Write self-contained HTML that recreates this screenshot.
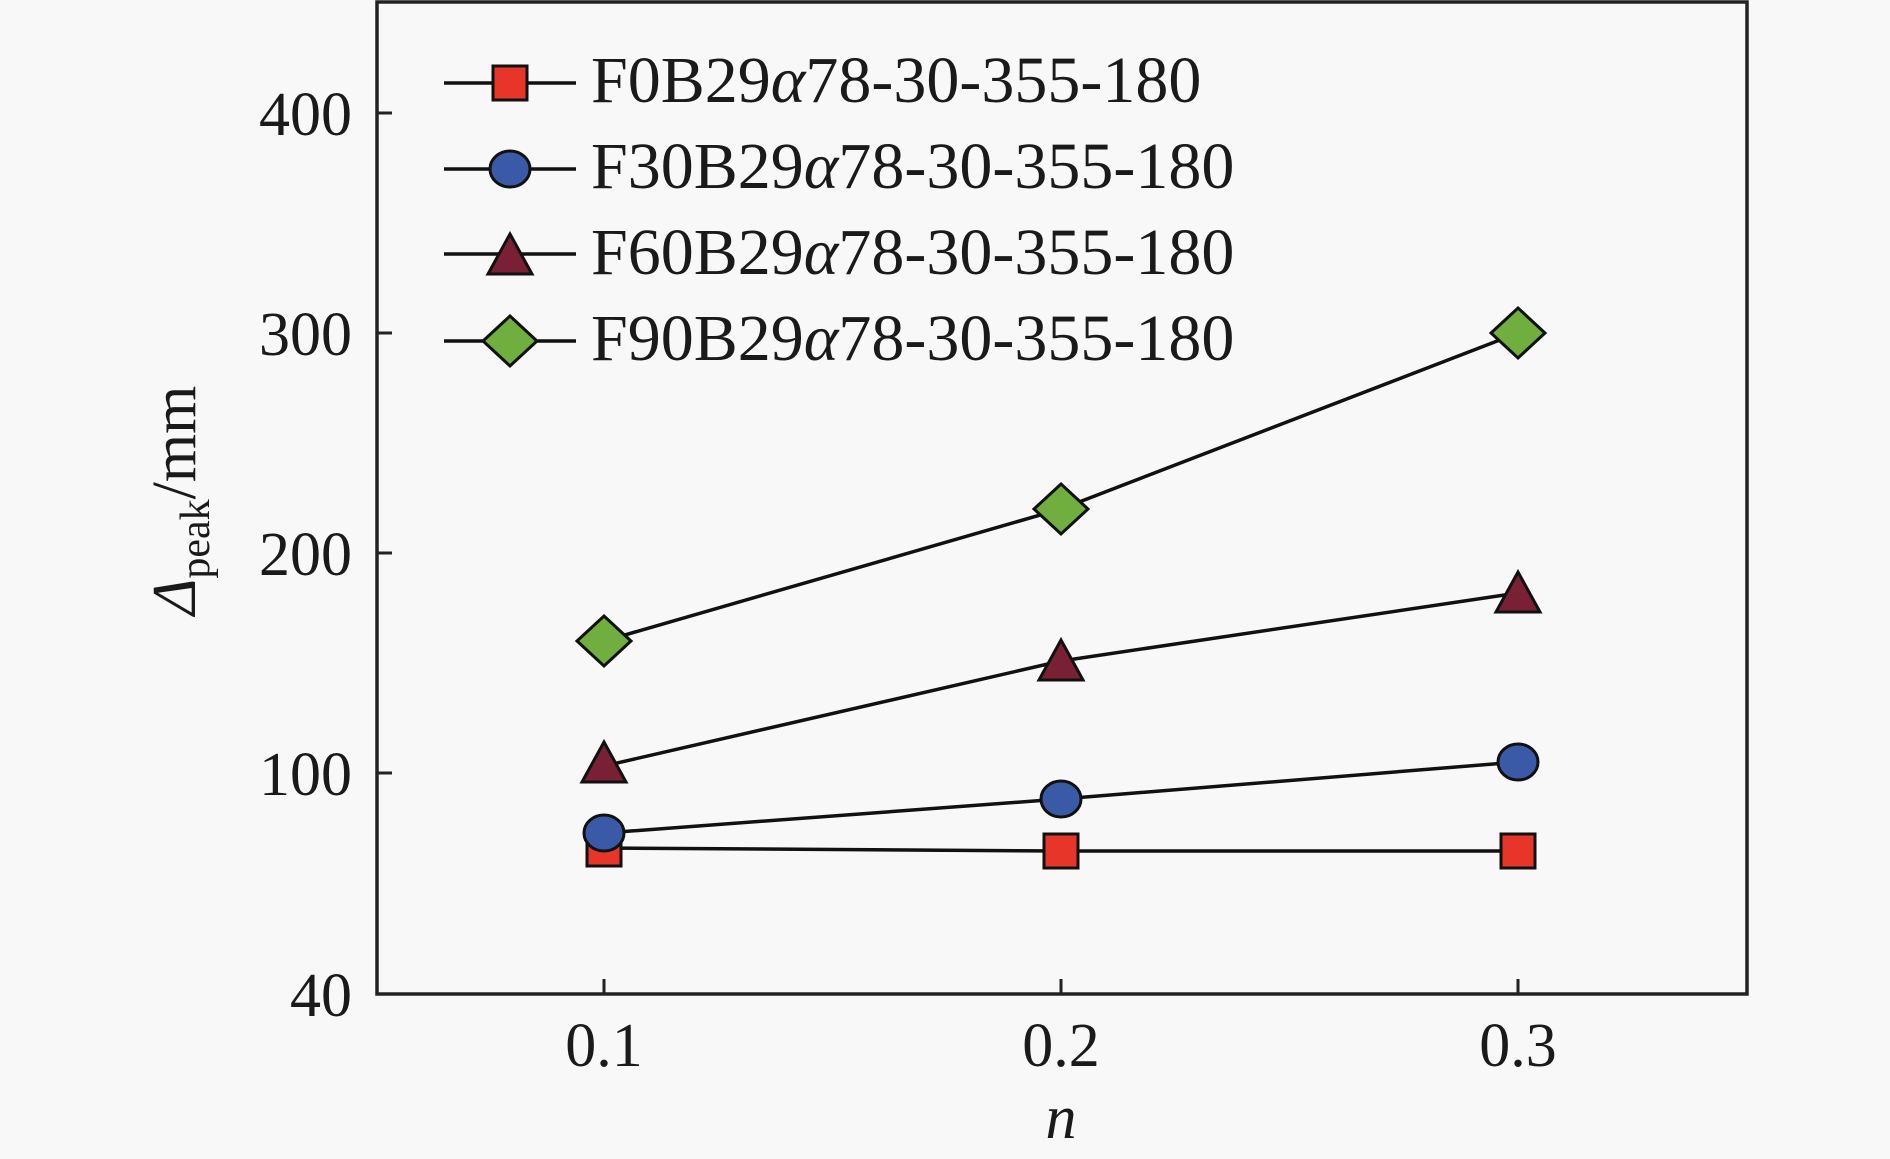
<!DOCTYPE html>
<html><head><meta charset="utf-8"><style>
html,body{margin:0;padding:0;background:#f8f8f8;}
svg{display:block;}
text{font-family:"Liberation Serif",serif;fill:#1a1a1a;}
</style></head><body>
<svg width="1890" height="1159" viewBox="0 0 1890 1159" xmlns="http://www.w3.org/2000/svg">
<rect width="1890" height="1159" fill="#f8f8f8"/>
<rect x="377" y="2" width="1370" height="992" fill="none" stroke="#222" stroke-width="3.5"/>
<g stroke="#222" stroke-width="3">
<line x1="377" y1="113" x2="392" y2="113"/>
<line x1="377" y1="333" x2="392" y2="333"/>
<line x1="377" y1="553" x2="392" y2="553"/>
<line x1="377" y1="773" x2="392" y2="773"/>
<line x1="604" y1="994" x2="604" y2="979"/>
<line x1="1061" y1="994" x2="1061" y2="979"/>
<line x1="1518" y1="994" x2="1518" y2="979"/>
</g>
<g font-size="62" text-anchor="end">
<text x="352" y="135">400</text>
<text x="352" y="355">300</text>
<text x="352" y="575">200</text>
<text x="352" y="795">100</text>
<text x="352" y="1016">40</text>
</g>
<g font-size="62" text-anchor="middle">
<text x="604" y="1066">0.1</text>
<text x="1061" y="1066">0.2</text>
<text x="1518" y="1066">0.3</text>
<text x="1061" y="1138" font-style="italic">n</text>
</g>
<text transform="translate(195,615) rotate(-90)" font-size="62"><tspan font-style="italic">Δ</tspan><tspan font-size="42" dy="14">peak</tspan><tspan dy="-14">/mm</tspan></text>
<g stroke="#111" stroke-width="3.5" fill="none">
<polyline points="604,848 1061,851 1518,851"/>
<polyline points="604,833 1061,799 1518,762"/>
<polyline points="604,766 1061,661 1518,593"/>
<polyline points="604,641 1061,509 1518,333"/>
</g>
<g stroke="#111" stroke-width="3">
<rect x="587" y="832" width="34" height="34" fill="#e8352a"/>
<rect x="1044" y="834" width="34" height="34" fill="#e8352a"/>
<rect x="1501" y="834" width="34" height="34" fill="#e8352a"/>
<ellipse cx="604" cy="833" rx="20" ry="18" fill="#3a5aa8"/>
<ellipse cx="1061" cy="799" rx="20" ry="18" fill="#3a5aa8"/>
<ellipse cx="1518" cy="762" rx="20" ry="18" fill="#3a5aa8"/>
<polygon points="604,742 582,782 626,782" fill="#7a2035"/>
<polygon points="1061,640 1039,680 1083,680" fill="#7a2035"/>
<polygon points="1518,572 1496,612 1540,612" fill="#7a2035"/>
<polygon points="604,616 631,641 604,666 577,641" fill="#6fae3f"/>
<polygon points="1061,484 1088,509 1061,534 1034,509" fill="#6fae3f"/>
<polygon points="1518,308 1545,333 1518,358 1491,333" fill="#6fae3f"/>
</g>
<g stroke="#111" stroke-width="3.5">
<line x1="444" y1="83" x2="576" y2="83"/>
<line x1="444" y1="169" x2="576" y2="169"/>
<line x1="444" y1="254" x2="576" y2="254"/>
<line x1="444" y1="341" x2="576" y2="341"/>
</g>
<g stroke="#111" stroke-width="3">
<rect x="493" y="66" width="34" height="34" fill="#e8352a"/>
<ellipse cx="510" cy="169" rx="20" ry="18" fill="#3a5aa8"/>
<polygon points="510,234 488,274 532,274" fill="#7a2035"/>
<polygon points="510,316 537,341 510,366 483,341" fill="#6fae3f"/>
</g>
<g font-size="66">
<text x="591" y="102">F0B29<tspan font-style="italic">α</tspan>78-30-355-180</text>
<text x="591" y="188">F30B29<tspan font-style="italic">α</tspan>78-30-355-180</text>
<text x="591" y="274">F60B29<tspan font-style="italic">α</tspan>78-30-355-180</text>
<text x="591" y="360">F90B29<tspan font-style="italic">α</tspan>78-30-355-180</text>
</g>
</svg>
</body></html>
